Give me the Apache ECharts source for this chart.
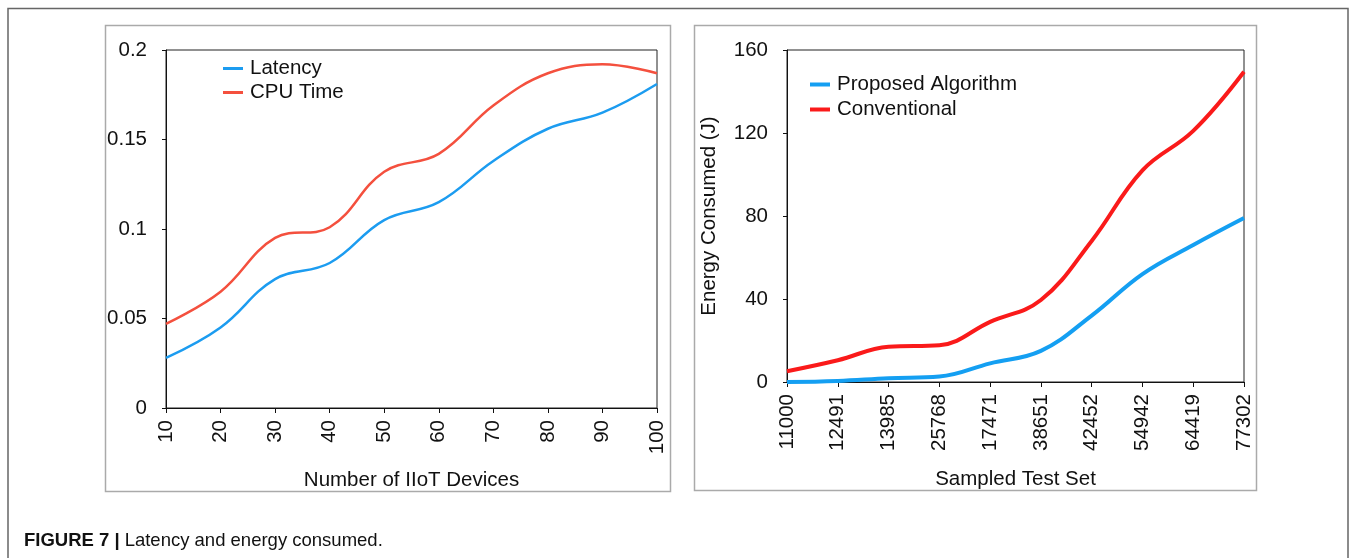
<!DOCTYPE html>
<html>
<head>
<meta charset="utf-8">
<script src="https://cdn.jsdelivr.net/npm/echarts@6/dist/echarts.min.js"></script>
<style>
html,body{margin:0;padding:0;background:#fff;}
#c{width:1356px;height:558px;}
</style>
</head>
<body>
<div id="c"></div>
<script>
// ---- data ----
const devices = ['10','20','30','40','50','60','70','80','90','100'];
const latency = [0.028, 0.045, 0.072, 0.081, 0.105, 0.115, 0.138, 0.156, 0.165, 0.181];
const cpuTime = [0.047, 0.065, 0.095, 0.101, 0.132, 0.142, 0.169, 0.187, 0.192, 0.187];
const testSets = ['11000','12491','13985','25768','17471','38651','42452','54942','64419','77302'];
const proposed = [0, 0.5, 1.8, 2.6, 9, 15, 32, 52, 66, 79];
const conventional = [5.2, 10.5, 17, 17.7, 29, 39.5, 68, 102, 121, 149.5];
const leftTicks = {min: 0, max: 0.2, interval: 0.05};
const rightTicks = {min: 0, max: 160, interval: 40};

const FONT = '"Liberation Sans", Arial, Helvetica, sans-serif';
const FS = 20.5;
const chart = echarts.init(document.getElementById('c'), null, {renderer: 'canvas'});

function xAxisCfg(gridIndex, data, name, nameGap) {
  return {
    type: 'category', gridIndex, data, boundaryGap: false,
    name, nameLocation: 'middle', nameGap,
    nameTextStyle: {fontFamily: FONT, fontSize: FS, color: '#111'},
    axisLine: {lineStyle: {color: '#111', width: 1}},
    axisTick: {show: true, alignWithLabel: true, length: 5, lineStyle: {color: '#111'}},
    axisLabel: {rotate: 90, margin: 12, fontFamily: FONT, fontSize: FS, color: '#111', interval: 0},
    splitLine: {show: false}
  };
}
function yAxisCfg(gridIndex, ticks, name, nameGap) {
  return {
    type: 'value', gridIndex, min: ticks.min, max: ticks.max, interval: ticks.interval,
    name, nameLocation: 'middle', nameGap,
    nameTextStyle: {fontFamily: FONT, fontSize: FS, color: '#111'},
    axisLine: {show: true, lineStyle: {color: '#111', width: 1}},
    axisTick: {show: true, length: 4, lineStyle: {color: '#111'}},
    axisLabel: {margin: 19, fontFamily: FONT, fontSize: FS, color: '#111'},
    splitLine: {show: false}
  };
}

const option = {
  backgroundColor: '#fff',
  animation: false,
  grid: [
    {left: 166, right: 1356 - 657, top: 50, bottom: 558 - 408, show: true, borderColor: '#222', borderWidth: 1},
    {left: 787, right: 1356 - 1244, top: 50, bottom: 558 - 382, show: true, borderColor: '#222', borderWidth: 1}
  ],
  xAxis: [
    xAxisCfg(0, devices, 'Number of IIoT Devices', 62),
    xAxisCfg(1, testSets, 'Sampled Test Set', 87)
  ],
  yAxis: [
    yAxisCfg(0, leftTicks, '', 0),
    yAxisCfg(1, rightTicks, 'Energy Consumed (J)', 67)
  ],
  legend: [
    {
      data: ['Latency', 'CPU Time'], orient: 'vertical', left: 218, top: 53,
      icon: 'rect', itemWidth: 20, itemHeight: 3, itemGap: 3,
      textStyle: {fontFamily: FONT, fontSize: FS, color: '#111', lineHeight: 21, padding: [0, 0, 0, 2]},
      selectedMode: false
    },
    {
      data: ['Proposed Algorithm', 'Conventional'], orient: 'vertical', left: 805, top: 69,
      icon: 'rect', itemWidth: 20, itemHeight: 4, itemGap: 4,
      textStyle: {fontFamily: FONT, fontSize: FS, color: '#111', lineHeight: 21, padding: [0, 0, 0, 2]},
      selectedMode: false
    }
  ],
  series: [
    {name: 'Latency', type: 'line', xAxisIndex: 0, yAxisIndex: 0, data: latency, smooth: 0.4,
     showSymbol: false, color: '#1c9cf0', lineStyle: {width: 2.5, color: '#1c9cf0'}},
    {name: 'CPU Time', type: 'line', xAxisIndex: 0, yAxisIndex: 0, data: cpuTime, smooth: 0.4,
     showSymbol: false, color: '#f4503e', lineStyle: {width: 2.5, color: '#f4503e'}},
    {name: 'Proposed Algorithm', type: 'line', xAxisIndex: 1, yAxisIndex: 1, data: proposed, smooth: 0.4,
     showSymbol: false, color: '#149ff2', lineStyle: {width: 4, color: '#149ff2'}},
    {name: 'Conventional', type: 'line', xAxisIndex: 1, yAxisIndex: 1, data: conventional, smooth: 0.4,
     showSymbol: false, color: '#fa1a1a', lineStyle: {width: 4, color: '#fa1a1a'}}
  ],
  graphic: [
    {type: 'polyline', silent: true, shape: {points: [[8, 570], [8, 8.5], [1348, 8.5], [1348, 570]]},
     style: {stroke: '#666', lineWidth: 1.5, fill: null}},
    {type: 'rect', silent: true, shape: {x: 105.5, y: 25.5, width: 565, height: 466},
     style: {stroke: '#aaa', lineWidth: 1.5, fill: null}},
    {type: 'rect', silent: true, shape: {x: 694.5, y: 25.5, width: 562, height: 465},
     style: {stroke: '#aaa', lineWidth: 1.5, fill: null}},
    {type: 'text', silent: true, left: 24, top: 531,
     style: {
       text: '{b|FIGURE 7 |}{n|Latency and energy consumed.}',
       rich: {
         b: {fontFamily: FONT, fontSize: 18.5, fontWeight: 'bold', fill: '#111'},
         n: {fontFamily: FONT, fontSize: 18.5, fill: '#111', padding: [0, 0, 0, 5]}
       }
     }}
  ]
};
chart.setOption(option);
</script>
</body>
</html>
